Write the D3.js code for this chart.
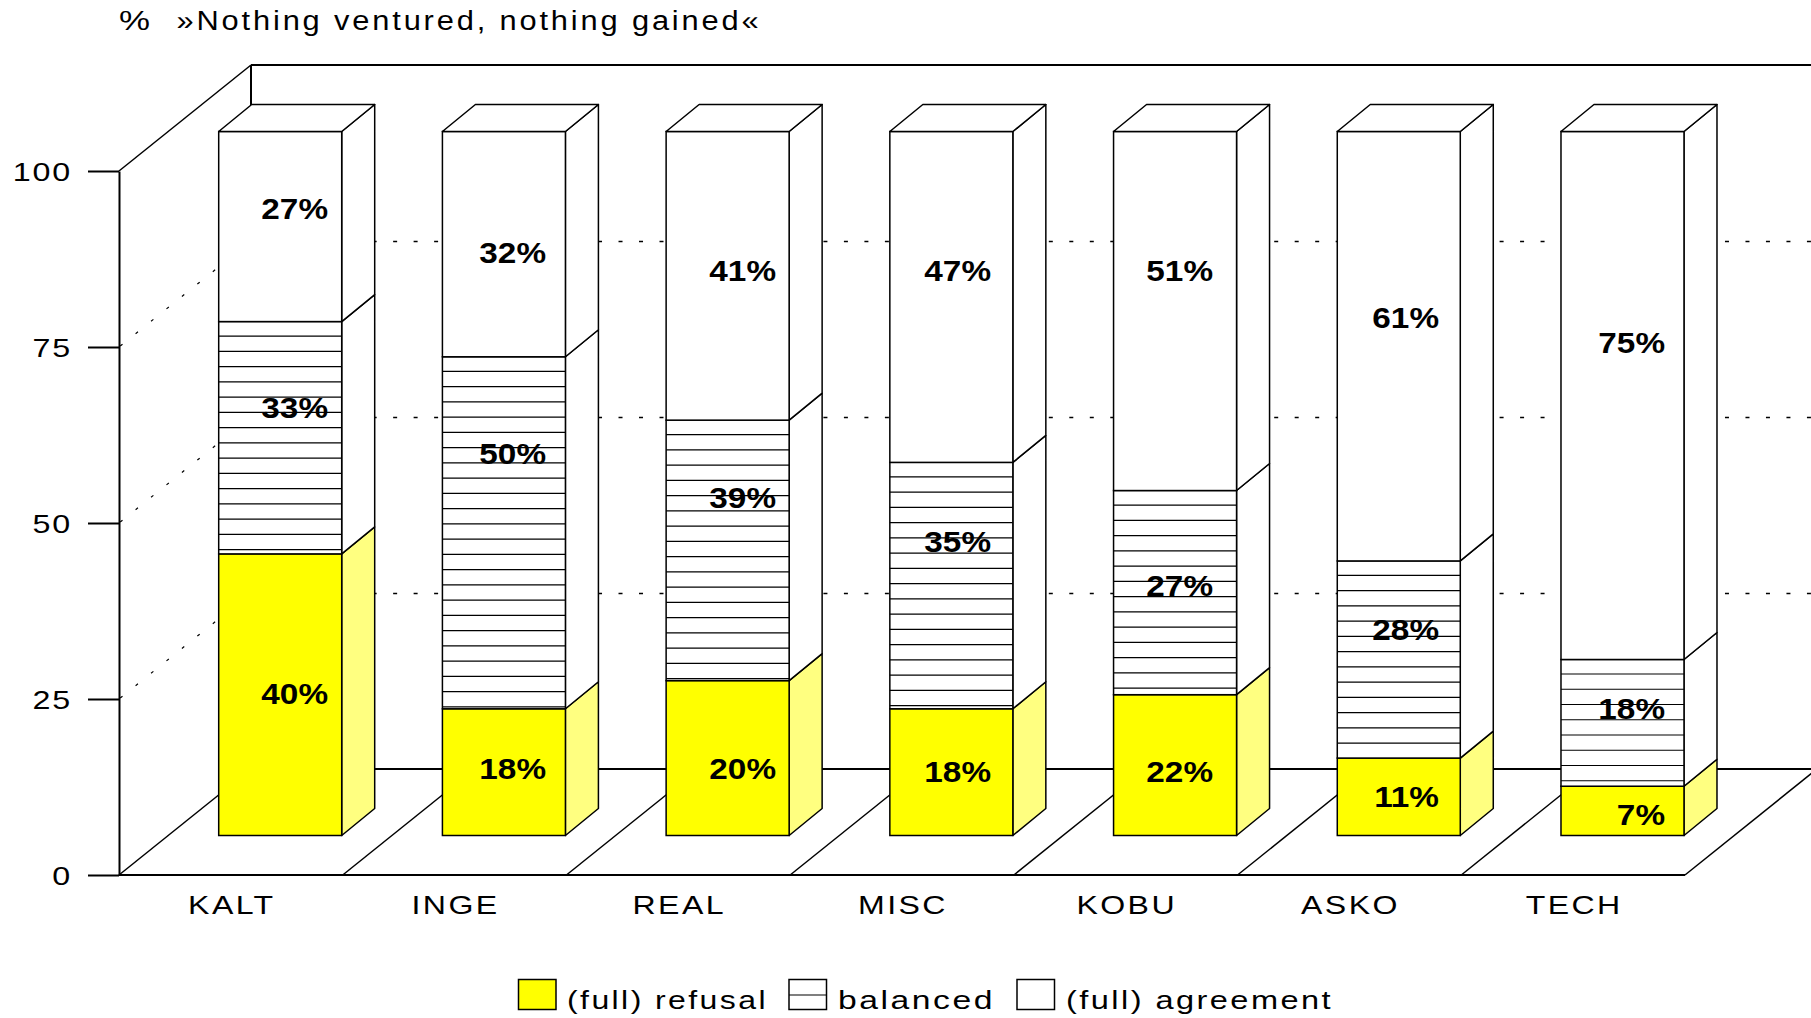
<!DOCTYPE html>
<html><head><meta charset="utf-8">
<script src="https://cdn.jsdelivr.net/npm/d3@7"></script>
<style>html,body{margin:0;padding:0;background:#fff}svg{display:block}text{font-family:"Liberation Sans",Arial,sans-serif;fill:#000}</style>
</head><body><svg id="c" width="1811" height="1018"></svg>
<script>
const categories=["KALT","INGE","REAL","MISC","KOBU","ASKO","TECH"];
// heights as drawn
const refusal=[40,18,22,18,20,11,7];
const balanced=[33,50,37,35,29,28,18];
const agreement=[27,32,41,47,51,61,75];
// values as printed
const refusalLabels=[40,18,20,18,22,11,7];
const balancedLabels=[33,50,39,35,27,28,18];
const agreementLabels=[27,32,41,47,51,61,75];
const yTicks=[0,25,50,75,100];
const legendLabels=["(full) refusal","balanced","(full) agreement"];
const titleUnit="%";
const titleText="\u00bbNothing ventured, nothing gained\u00ab";

const W=1811,H=1018;
const svg=d3.select("#c");
const x=d3.scaleBand().domain(categories).range([119,1685]);
const y=d3.scaleLinear().domain([0,100]).range([875,171]);
const wall={dx:132,dy:-106}, depth={dx:33,dy:-27};
const barW=123, barShiftX=99.7, barShiftY=-39.5;
const YEL="#ffff00", LY="#ffff80";
const ln=(a,b,c,d,w=1.5)=>svg.append("line").attr("x1",a).attr("y1",b).attr("x2",c).attr("y2",d).attr("stroke","#000").attr("stroke-width",w);
function stretch(sel,k){sel.each(function(){this.setAttribute("lengthAdjust","spacingAndGlyphs");this.setAttribute("textLength",this.getComputedTextLength()*k);});return sel;}
function fit(sel,w){sel.attr("lengthAdjust","spacingAndGlyphs").attr("textLength",w);return sel;}

// walls
const x0=x.range()[0], x1=x.range()[1];
ln(x0,y(100),x0+wall.dx,y(100)+wall.dy,1.5);
ln(x0+wall.dx,y(100)+wall.dy,W,y(100)+wall.dy,2);
ln(x0+wall.dx,y(100)+wall.dy,x0+wall.dx,y(0)+wall.dy,2);
ln(x0+wall.dx,y(0)+wall.dy,W,y(0)+wall.dy,2);
[25,50,75].forEach(v=>{
  ln(x0,y(v),x0+wall.dx,y(v)+wall.dy,1.2).attr("stroke-dasharray","3 16.8").attr("stroke-dashoffset",-1.5);
  ln(x0+wall.dx,y(v)+wall.dy+0.4,W,y(v)+wall.dy+0.4,1.5).attr("stroke-dasharray","4 16.49").attr("stroke-dashoffset",1.3);
});
// floor
categories.concat(["end"]).forEach((c,i)=>{
  const fx=x0+i*x.bandwidth();
  ln(fx,y(0),fx+wall.dx,y(0)+wall.dy,1.5);
});
// axis
const axis=d3.axisLeft(y).tickValues(yTicks).tickSize(31).tickPadding(16).tickSizeOuter(0);
const ga=svg.append("g").attr("transform",`translate(${x0},0)`).call(axis);
ga.selectAll("path,line").attr("stroke","#000").attr("stroke-width",2);
ga.selectAll("text").attr("font-size",26).attr("dy",null).attr("y",9.5).attr("letter-spacing",1.5);
ga.attr("font-family",null).attr("font-size",null);
stretch(ga.selectAll("text"),1.24);
ln(x0,y(0),W-126,y(0),2);

// bars
const labelBase={
 refusal:[704,779,779,782,782,807,825],
 balanced:[418,464,508,552,596,640,719],
 agreement:[219,263,281,281,281,328,353]};
const labelRight=[328,546,776,991,1213,1439,1665];
const segs=[["refusal",refusal,refusalLabels,YEL,LY],["balanced",balanced,balancedLabels,"#fff","#fff"],["agreement",agreement,agreementLabels,"#fff","#fff"]];
const labelLayer=[];
categories.forEach((c,i)=>{
  const bx=x(c)+barShiftX; let base=0;
  segs.forEach(([name,vals,labs,fc,sc])=>{
    const v=vals[i];
    const yb=y(base)+barShiftY, yt=y(base+v)+barShiftY;
    svg.append("polygon").attr("points",[[bx+barW,yb],[bx+barW+depth.dx,yb+depth.dy],[bx+barW+depth.dx,yt+depth.dy],[bx+barW,yt]].join(" "))
      .attr("fill",sc).attr("stroke","#000").attr("stroke-width",1.5).attr("stroke-linejoin","round");
    svg.append("rect").attr("x",bx).attr("y",yt).attr("width",barW).attr("height",yb-yt).attr("fill",fc).attr("stroke","#000").attr("stroke-width",1.5);
    if(name==="balanced"){
      d3.range(yt+14.5,yb-1.5,15.25).forEach(ly=>{ln(bx,ly,bx+barW,ly,1.2);});
    }
    if(name==="agreement"){
      svg.append("polygon").attr("points",[[bx,yt],[bx+depth.dx,yt+depth.dy],[bx+barW+depth.dx,yt+depth.dy],[bx+barW,yt]].join(" "))
        .attr("fill","#fff").attr("stroke","#000").attr("stroke-width",1.5).attr("stroke-linejoin","round");
    }
    labelLayer.push({t:labs[i]+"%",x:labelRight[i],y:labelBase[name][i]});
    base+=v;
  });
});
stretch(svg.selectAll("text.v").data(labelLayer).join("text").attr("class","v")
  .attr("x",d=>d.x).attr("y",d=>d.y).attr("text-anchor","end").attr("font-weight","bold").attr("font-size",30).text(d=>d.t),1.11);

// category labels
stretch(svg.selectAll("text.cat").data(categories).join("text").attr("class","cat")
  .attr("x",d=>x(d)+x.bandwidth()/2+1).attr("y",914).attr("text-anchor","middle").attr("font-size",26.5).attr("letter-spacing",2).text(d=>d),1.21);

// title
fit(svg.append("text").attr("x",119).attr("y",30).attr("font-size",27).text(titleUnit),31);
fit(svg.append("text").attr("x",176.5).attr("y",30).attr("font-size",27).attr("letter-spacing",2.5).text(titleText),585);

// legend
const legendX=[518.5,789,1017], legendTextX=[567,838,1066], legendW=[201,157,267];
legendLabels.forEach((t,i)=>{
  svg.append("rect").attr("x",legendX[i]).attr("y",979.5).attr("width",37.5).attr("height",30).attr("fill",i===0?YEL:"#fff").attr("stroke","#000").attr("stroke-width",1.5);
  if(i===1) ln(legendX[i],995,legendX[i]+37.5,995,1.2);
  fit(svg.append("text").attr("x",legendTextX[i]).attr("y",1009).attr("font-size",26.5).attr("letter-spacing",2).text(t),legendW[i]);
});
</script></body></html>
